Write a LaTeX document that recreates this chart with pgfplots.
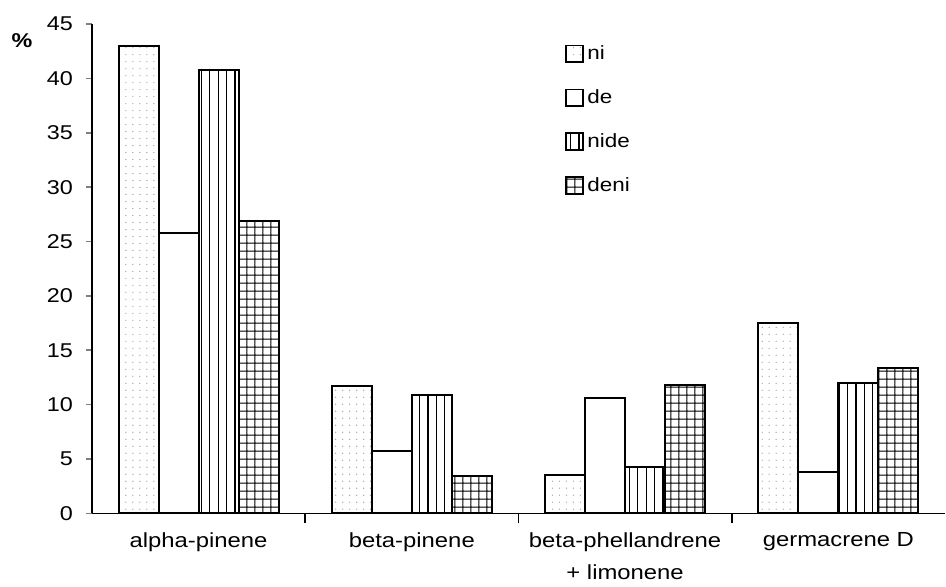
\documentclass[border=0pt]{standalone}
\usepackage{fontspec}
\setmainfont{Liberation Sans}[FakeStretch=1.17]
\usepackage{pgfplots}
\pgfplotsset{compat=1.18}
\usetikzlibrary{patterns.meta}
\begin{document}
\fontsize{10}{12}\selectfont
\begin{tikzpicture}
\begin{axis}[
  scale only axis, width=427pt, height=245pt,
  xmin=-0.5, xmax=3.5, ymin=0, ymax=45,
  axis lines*=left,
  axis line style={line width=0.8pt},
  ybar=0pt, bar width=0.1875,
  ytick={0,5,...,45},
  xtick={0,1,2,3},
  xticklabels={alpha-pinene, beta-pinene, {beta-phellandrene\\+ limonene}, germacrene D},
  xticklabel style={align=center, yshift=-3pt, font=\fontsize{10.2}{16}\selectfont},
  x tick style={draw=none},
  minor xtick={0.5,1.5,2.5},
  minor x tick style={draw=black, line width=0.8pt},
  minor tick length=5pt,
  major tick length=3pt,
  tick align=outside,
  y tick style={line width=0.8pt},
  /pgf/number format/assume math mode=true,
  yticklabel style={font=\fontsize{10}{12}\selectfont, xshift=-3pt},
  ylabel={\textbf{\%}},
  ylabel style={rotate=-90, at={(rel axis cs:0,1)}, anchor=center, xshift=-35pt, yshift=-8.5pt, font=\fontsize{10}{12}\selectfont},
  legend style={at={(rel axis cs:0.554,0.965)}, anchor=north west, draw=none, fill=none,
    row sep=9.5pt, font=\fontsize{9.6}{11}\selectfont, inner sep=0pt,
    /tikz/every even column/.append style={column sep=1pt}},
  legend cell align=left,
  legend image code/.code={\draw[#1, line width=0.9pt] (0pt,-4.2pt) rectangle (8.4pt,4.2pt);},
  every axis plot/.append style={draw=black, line width=1pt},
]
\addplot[pattern={Dots[distance=3.5pt, radius=0.35pt]}, pattern color=black!35] coordinates {(0,43) (1,11.7) (2,3.5) (3,17.5)};
\addplot[fill=white] coordinates {(0,25.8) (1,5.7) (2,10.6) (3,3.8)};
\addplot[pattern={Lines[angle=90, distance=4.2pt, line width=0.6pt]}] coordinates {(0,40.8) (1,10.9) (2,4.3) (3,12.0)};
\addplot[pattern={Hatch[angle=0, distance=4pt, line width=0.5pt]}] coordinates {(0,26.9) (1,3.4) (2,11.8) (3,13.4)};
\legend{ni, de, nide, deni}
\end{axis}
\path (current axis.south west) ++(-46pt,-34.5pt) coordinate (bl);
\path (current axis.north east) ++(0.5pt,12pt) coordinate (tr);
\path (bl) rectangle (tr);
\end{tikzpicture}
\end{document}
